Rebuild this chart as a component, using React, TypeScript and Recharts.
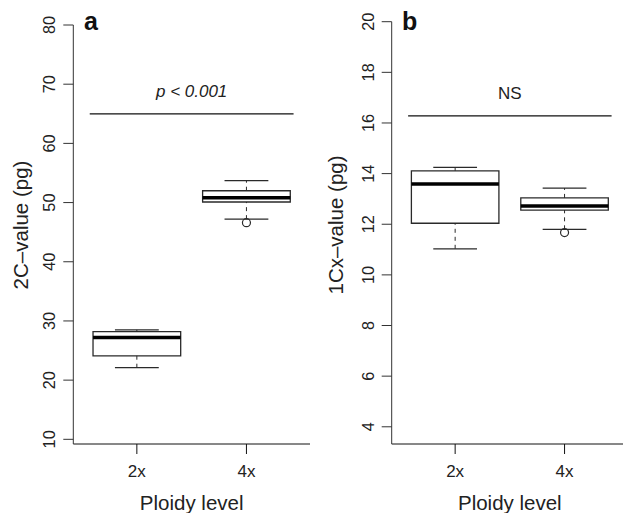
import { ComposedChart, XAxis, YAxis, ReferenceArea, ReferenceLine, ReferenceDot, Scatter, Label } from 'recharts'

const FONT = '"Liberation Sans", Arial, Helvetica, sans-serif'

// shared x categories
const CATEGORIES = ['2x', '4x']
const POSITIONS = [1, 2]

// panel a: 2C-value (pg)
const A_MIN = [22.1, 47.2]
const A_Q1 = [24.1, 50.1]
const A_MEDIAN = [27.2, 50.8]
const A_Q3 = [28.2, 52.0]
const A_MAX = [28.5, 53.7]
const A_OUTLIERS = [{ x: 2, y: 46.6 }]
const A_TICKS = [10, 20, 30, 40, 50, 60, 70, 80]
const A_SIG = { y: 65, from: 0.57, to: 2.43, label: 'p < 0.001', labelY: 68.9 }

// panel b: 1Cx-value (pg)
const B_MIN = [11.03, 11.8]
const B_Q1 = [12.04, 12.56]
const B_MEDIAN = [13.59, 12.72]
const B_Q3 = [14.11, 13.04]
const B_MAX = [14.25, 13.43]
const B_OUTLIERS = [{ x: 2, y: 11.67 }]
const B_TICKS = [4, 6, 8, 10, 12, 14, 16, 18, 20]
const B_SIG = { y: 16.28, from: 0.57, to: 2.43, label: 'NS', labelY: 17.2 }

const BOX_HALF = 0.4
const CAP_HALF = 0.2
const LINE = '#2a2a2a'

const RotatedTick = (props: any) => {
  const { x, y, payload } = props
  return (
    <text x={x} y={y} transform={`rotate(-90 ${x} ${y})`} textAnchor="middle" fontSize={16.3} fill="#222" fontFamily={FONT}>
      {payload.value}
    </text>
  )
}

const OpenCircle = (props: any) => {
  const { cx, cy } = props
  return <circle cx={cx} cy={cy} r={4} fill="none" stroke={LINE} strokeWidth={1.2} />
}

type PanelProps = {
  letter: string
  yTitle: string
  domain: [number, number]
  ticks: number[]
  min: number[]
  q1: number[]
  median: number[]
  q3: number[]
  max: number[]
  outliers: { x: number; y: number }[]
  sig: { y: number; from: number; to: number; label: string; labelY: number }
  italic: boolean
  width: number
  top: number
  axisWidth: number
  right: number
  titleX: number
  letterX: number
}

function BoxPanel(p: PanelProps) {
  return (
    <ComposedChart width={p.width} height={513} margin={{ top: p.top, right: p.right, bottom: 9, left: 0 }}>
      <XAxis
        type="number"
        dataKey="x"
        domain={[0.42, 2.58]}
        ticks={POSITIONS}
        allowDataOverflow
        tickFormatter={(v: number) => CATEGORIES[v - 1]}
        tickSize={10}
        tickMargin={11}
        height={60}
        stroke="#111"
        tick={{ fill: '#222', fontSize: 17, fontFamily: FONT }}
        label={
          <Label
            content={(lp: any) => {
              const vb = lp.viewBox || { x: 0, y: 0, width: 0 }
              return (
                <text x={vb.x + vb.width / 2} y={509.5} textAnchor="middle" fontSize={20.5} fill="#222" fontFamily={FONT}>
                  Ploidy level
                </text>
              )
            }}
          />
        }
      />
      <YAxis
        type="number"
        dataKey="y"
        domain={p.domain}
        ticks={p.ticks}
        allowDataOverflow
        width={p.axisWidth}
        tickSize={10}
        tickMargin={8}
        stroke="#333"
        tick={<RotatedTick />}
        label={
          <Label
            content={() => (
              <text
                x={p.titleX}
                y={225}
                transform={`rotate(-90 ${p.titleX} 225)`}
                textAnchor="middle"
                fontSize={20.5}
                fill="#222"
                fontFamily={FONT}
              >
                {p.yTitle}
              </text>
            )}
          />
        }
      />

      {POSITIONS.map((pos, i) => (
        <ReferenceLine
          key={`wl${i}`}
          segment={[{ x: pos, y: p.min[i] }, { x: pos, y: p.q1[i] }]}
          stroke={LINE}
          strokeDasharray="4 4"
        />
      ))}
      {POSITIONS.map((pos, i) => (
        <ReferenceLine
          key={`wu${i}`}
          segment={[{ x: pos, y: p.q3[i] }, { x: pos, y: p.max[i] }]}
          stroke={LINE}
          strokeDasharray="4 4"
        />
      ))}
      {POSITIONS.map((pos, i) => (
        <ReferenceLine
          key={`cl${i}`}
          segment={[{ x: pos - CAP_HALF, y: p.min[i] }, { x: pos + CAP_HALF, y: p.min[i] }]}
          stroke={LINE}
          strokeWidth={1.2}
        />
      ))}
      {POSITIONS.map((pos, i) => (
        <ReferenceLine
          key={`cu${i}`}
          segment={[{ x: pos - CAP_HALF, y: p.max[i] }, { x: pos + CAP_HALF, y: p.max[i] }]}
          stroke={LINE}
          strokeWidth={1.2}
        />
      ))}
      {POSITIONS.map((pos, i) => (
        <ReferenceArea
          key={`box${i}`}
          x1={pos - BOX_HALF}
          x2={pos + BOX_HALF}
          y1={p.q1[i]}
          y2={p.q3[i]}
          fill="#fff"
          fillOpacity={1}
          stroke={LINE}
          strokeWidth={1.3}
        />
      ))}
      {POSITIONS.map((pos, i) => (
        <ReferenceLine
          key={`med${i}`}
          segment={[{ x: pos - BOX_HALF, y: p.median[i] }, { x: pos + BOX_HALF, y: p.median[i] }]}
          stroke="#000"
          strokeWidth={3.5}
        />
      ))}

      <Scatter data={p.outliers} dataKey="y" shape={<OpenCircle />} isAnimationActive={false} />

      <ReferenceLine
        segment={[{ x: p.sig.from, y: p.sig.y }, { x: p.sig.to, y: p.sig.y }]}
        stroke="#111"
        strokeWidth={1.2}
      />
      <ReferenceDot
        x={1.5}
        y={p.sig.labelY}
        r={0}
        fill="none"
        stroke="none"
        label={{
          value: p.sig.label,
          position: 'center',
          fontSize: 17,
          fill: '#222',
          fontFamily: FONT,
          fontStyle: p.italic ? 'italic' : 'normal',
        }}
      />
      <text x={p.letterX} y={30} fontSize={25} fontWeight="bold" fill="#111" fontFamily={FONT}>
        {p.letter}
      </text>
    </ComposedChart>
  )
}

export default function App() {
  return (
    <div style={{ position: 'absolute', left: 0, top: 0, width: 623, height: 513, overflow: 'hidden', background: '#fff' }}>
      <div style={{ position: 'absolute', left: 0, top: 0 }}>
        <BoxPanel
          letter="a"
          yTitle="2C–value (pg)"
          domain={[9.21, 80]}
          ticks={A_TICKS}
          min={A_MIN}
          q1={A_Q1}
          median={A_MEDIAN}
          q3={A_Q3}
          max={A_MAX}
          outliers={A_OUTLIERS}
          sig={A_SIG}
          italic
          width={320}
          top={25}
          axisWidth={73.3}
          right={10}
          titleX={28.3}
          letterX={84}
        />
      </div>
      <div style={{ position: 'absolute', left: 310, top: 0 }}>
        <BoxPanel
          letter="b"
          yTitle="1Cx–value (pg)"
          domain={[3.32, 20]}
          ticks={B_TICKS}
          min={B_MIN}
          q1={B_Q1}
          median={B_MEDIAN}
          q3={B_Q3}
          max={B_MAX}
          outliers={B_OUTLIERS}
          sig={B_SIG}
          italic={false}
          width={318}
          top={21.7}
          axisWidth={81.7}
          right={0}
          titleX={33.3}
          letterX={92}
        />
      </div>
    </div>
  )
}
